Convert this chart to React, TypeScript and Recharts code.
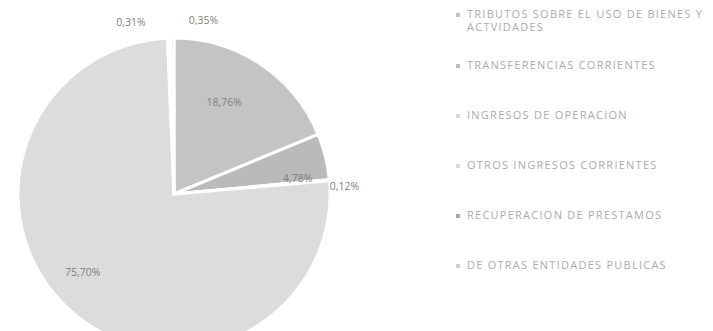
import { PieChart, Pie, Cell, Legend } from "recharts";

const CATEGORIES = [
  "TRIBUTOS SOBRE EL USO DE BIENES Y ACTVIDADES",
  "TRANSFERENCIAS CORRIENTES",
  "INGRESOS DE OPERACION",
  "OTROS INGRESOS CORRIENTES",
  "RECUPERACION DE PRESTAMOS",
  "DE OTRAS ENTIDADES PUBLICAS",
];

const SHARES = [18.76, 4.78, 0.12, 75.7, 0.31, 0.35];

const SLICE_COLORS = ["#c4c4c4", "#bababa", "#d6d6d6", "#dcdcdc", "#a9a9a9", "#cfcfcf"];

// label placement: radius factor, angle nudge (clockwise deg), anchor
const LABEL_PLACE: { r: number; da: number; anchor: "start" | "middle" | "end" }[] = [
  { r: 0.67, da: -5, anchor: "middle" },
  { r: 0.8, da: 6.5, anchor: "middle" },
  { r: 1.0, da: 2, anchor: "start" },
  { r: 0.77, da: 8, anchor: "middle" },
  { r: 1.12, da: -7.5, anchor: "end" },
  { r: 1.12, da: 5.5, anchor: "start" },
];

const data = CATEGORIES.map((name, i) => ({ name, value: SHARES[i] }));

const fmt = (v: number) => v.toFixed(2).replace(".", ",") + "%";

function renderLabel(props: any) {
  const { cx, cy, midAngle, outerRadius, index, value } = props;
  const p = LABEL_PLACE[index];
  const theta = ((90 - midAngle + p.da) * Math.PI) / 180;
  const r = outerRadius * p.r;
  const x = cx + r * Math.sin(theta);
  const y = cy - r * Math.cos(theta);
  return (
    <text
      x={x}
      y={y}
      textAnchor={p.anchor}
      dominantBaseline="central"
      fill="#808080"
      fontSize={10.5}
      fontFamily="'Open Sans', sans-serif"
    >
      {fmt(value)}
    </text>
  );
}

function LegendBox() {
  return (
    <div style={{ fontFamily: "'Open Sans', sans-serif", color: "#ababab" }}>
      {CATEGORIES.map((c, i) => (
        <div
          key={c}
          style={{
            display: "flex",
            alignItems: "flex-start",
            height: i === 0 ? 51 : 50,
          }}
        >
          <span
            style={{
              width: 4,
              height: 4,
              marginTop: 6,
              marginRight: 7,
              background: SLICE_COLORS[i],
              flex: "none",
            }}
          />
          <span
            style={{
              fontSize: 11,
              letterSpacing: 1.25,
              lineHeight: "13px",
              width: 245,
            }}
          >
            {c}
          </span>
        </div>
      ))}
    </div>
  );
}

export default function App() {
  return (
    <div style={{ position: "absolute", left: 0, top: 0, background: "#fff" }}>
      <PieChart width={713} height={331}>
        <Pie
          data={data}
          dataKey="value"
          nameKey="name"
          cx={169}
          cy={189}
          outerRadius={156}
          startAngle={90}
          endAngle={-270}
          stroke="#ffffff"
          strokeWidth={3}
          label={renderLabel}
          labelLine={false}
          isAnimationActive={false}
        >
          {data.map((d, i) => (
            <Cell key={d.name} fill={SLICE_COLORS[i]} />
          ))}
        </Pie>
        <Legend
          layout="vertical"
          align="right"
          verticalAlign="top"
          content={() => <LegendBox />}
          wrapperStyle={{ left: 456, top: 7, width: 257 }}
        />
      </PieChart>
    </div>
  );
}
